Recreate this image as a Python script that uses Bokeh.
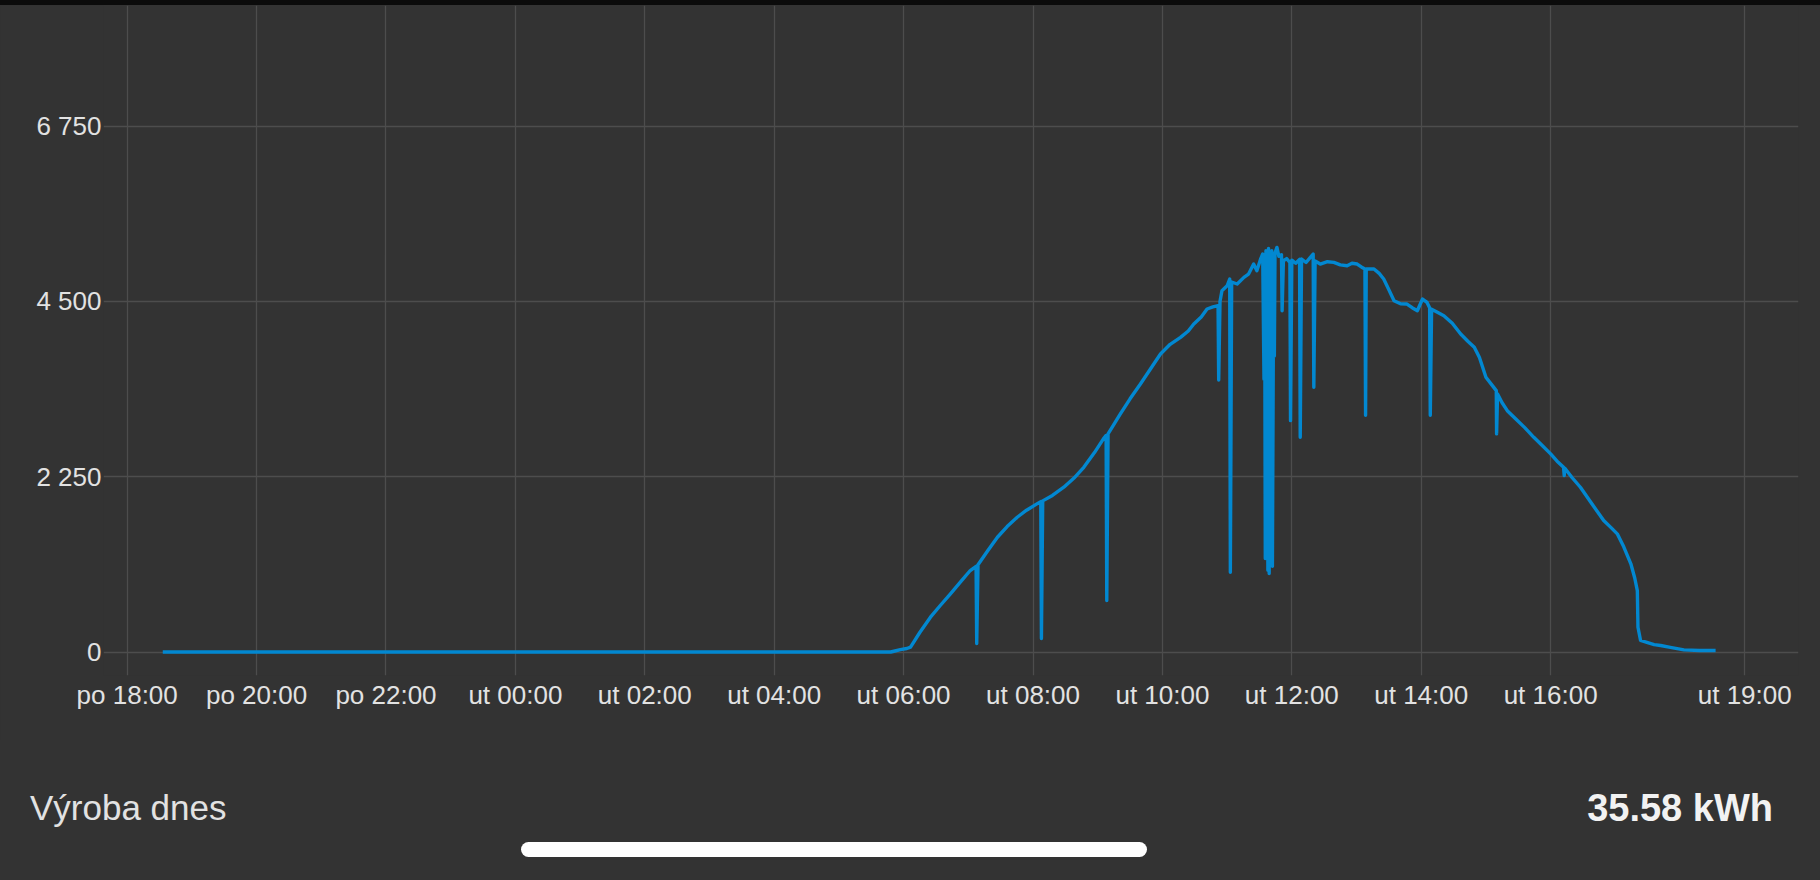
from bokeh.plotting import figure
from bokeh.models import Range1d, FixedTicker, Div
from bokeh.layouts import column
from bokeh.embed import file_html
from bokeh.resources import INLINE

# time in hours counted from Monday 00:00 (po = Monday, ut = Tuesday)
hours = [18.55, 29.80, 29.85, 29.95, 30.05, 30.107, 30.25, 30.415, 30.57, 30.724,
         30.88, 31.03, 31.12, 31.13, 31.15, 31.30, 31.45, 31.60, 31.756, 31.90,
         32.06, 32.12, 32.13, 32.15, 32.30, 32.476, 32.63, 32.785, 32.95, 33.09,
         33.13, 33.14, 33.16, 33.35, 33.50, 33.66, 33.82, 33.97, 34.12, 34.28,
         34.40, 34.485, 34.60, 34.69, 34.78, 34.86, 34.87, 34.89, 34.92, 35.00,
         35.04, 35.05, 35.07, 35.155, 35.26, 35.33, 35.41, 35.46, 35.52, 35.55,
         35.57, 35.58, 35.59, 35.60, 35.61, 35.62, 35.63, 35.64, 35.65, 35.66,
         35.67, 35.69, 35.70, 35.72, 35.73, 35.74, 35.77, 35.80, 35.84, 35.85,
         35.87, 35.92, 35.97, 35.98, 36.00, 36.06, 36.12, 36.13, 36.15, 36.22,
         36.28, 36.33, 36.34, 36.36, 36.44, 36.55, 36.65, 36.75, 36.855, 36.93,
         37.01, 37.08, 37.13, 37.14, 37.15, 37.27, 37.35, 37.42, 37.50, 37.58,
         37.68, 37.78, 37.86, 37.94, 38.02, 38.09, 38.13, 38.14, 38.16, 38.25,
         38.35, 38.48, 38.61, 38.72, 38.82, 38.90, 39.00, 39.10, 39.16, 39.165,
         39.18, 39.25, 39.33, 39.45, 39.60, 39.74, 39.87, 40.00, 40.10, 40.20,
         40.21, 40.22, 40.33, 40.46, 40.64, 40.82, 40.93, 41.03, 41.13, 41.24,
         41.30, 41.34, 41.35, 41.39, 41.50, 41.60, 41.70, 41.85, 42.06, 42.30,
         42.55]
power_w = [0, 0, 10, 30, 45, 62, 250, 447, 600, 747,
           900, 1046, 1100, 110, 1120, 1300, 1473, 1610, 1730, 1820,
           1901, 1930, 173, 1940, 2010, 2115, 2230, 2371, 2560, 2740,
           2780, 661, 2800, 3056, 3250, 3441, 3640, 3826, 3950, 4039,
           4120, 4211, 4300, 4403, 4430, 4446, 3492, 4500, 4638, 4700,
           4788, 1024, 4750, 4724, 4809, 4850, 4980, 4895, 5050, 5109,
           3500, 5100, 1200, 5150, 2300, 5000, 1050, 5180, 1007, 4900,
           2600, 5150, 1100, 5100, 3800, 5120, 5194, 5080, 5100, 4381,
           5023, 5050, 5000, 2970, 5030, 4990, 5040, 2756, 5045, 5000,
           5060, 5109, 3398, 5020, 4980, 5010, 5002, 4970, 4959, 4990,
           4980, 4940, 4916, 3040, 4916, 4916, 4860, 4788, 4650, 4510,
           4470, 4467, 4420, 4381, 4531, 4488, 4420, 3040, 4400, 4360,
           4317, 4220, 4082, 3990, 3911, 3780, 3526, 3420, 3355, 2800,
           3313, 3200, 3098, 3000, 2880, 2756, 2650, 2543, 2450, 2371,
           2264, 2360, 2240, 2115, 1900, 1687, 1600, 1517, 1350, 1132,
           950, 789, 318, 148, 120, 95, 83, 60, 28, 20,
           19]

x_ticks = [18, 20, 22, 24, 26, 28, 30, 32, 34, 36, 38, 40, 43]
x_tick_labels = ["po 18:00", "po 20:00", "po 22:00", "ut 00:00", "ut 02:00",
                 "ut 04:00", "ut 06:00", "ut 08:00", "ut 10:00", "ut 12:00",
                 "ut 14:00", "ut 16:00", "ut 19:00"]
y_ticks = [0, 2250, 4500, 6750]
y_tick_labels = ["0", "2 250", "4 500", "6 750"]

summary_label = "Výroba dnes"
summary_value = "35.58 kWh"

BG = "#333333"
GRID = "#4d4d4d"
TXT = "#e2e2e2"
FONT = "Liberation Sans"

p = figure(width=1820, height=735, output_backend="svg", toolbar_location=None,
           x_range=Range1d(17.634, 43.831), y_range=Range1d(-301.6, 8299),
           min_border_left=103, min_border_right=22, min_border_top=0,
           min_border_bottom=65, margin=0,
           styles={"background-color": BG})
p.background_fill_color = BG
p.background_fill_alpha = 0
p.border_fill_color = BG
p.outline_line_color = None

p.line(hours, power_w, line_color="#0288D1", line_width=3.4, line_join="round")

for ax in (p.xaxis[0], p.yaxis[0]):
    ax.axis_line_color = None
    ax.major_tick_line_color = None
    ax.minor_tick_line_color = None
    ax.major_tick_out = 0
    ax.major_tick_in = 0
    ax.major_label_text_color = TXT
    ax.major_label_text_font = FONT
    ax.major_label_text_font_size = "26px"

p.xaxis[0].ticker = FixedTicker(ticks=x_ticks)
p.xaxis[0].major_label_overrides = dict(zip(x_ticks, x_tick_labels))
p.xaxis[0].major_label_standoff = 4
p.yaxis[0].ticker = FixedTicker(ticks=y_ticks)
p.yaxis[0].major_label_overrides = dict(zip(y_ticks, y_tick_labels))
p.yaxis[0].major_label_standoff = 2

p.xgrid[0].grid_line_color = GRID
p.xgrid[0].grid_line_width = 1.3
p.ygrid[0].grid_line_color = GRID
p.ygrid[0].grid_line_width = 1.3

# status strip at the very top of the screenshot
top_strip = Div(
    text=("<div style=\"position:relative;width:1820px;height:5px;background:#0b0b0b;\">"
          "<div style=\"position:absolute;left:1367px;top:0;width:453px;height:5px;"
          "background:#1e1e1e;\"></div></div>"),
    width=1820, height=5, margin=0, styles={"background-color": "#0b0b0b"})

footer_html = (
    "<div style=\"position:relative;width:1820px;height:140px;background:#333333;"
    "font-family:'Liberation Sans';\">"
    "<span style=\"position:absolute;left:30px;top:48px;font-size:35px;line-height:40px;"
    "color:#e2e2e2;white-space:nowrap;\">" + summary_label + "</span>"
    "<span style=\"position:absolute;right:47px;top:48px;font-size:38px;line-height:40px;"
    "font-weight:bold;color:#f2f2f2;white-space:nowrap;\">" + summary_value + "</span>"
    "<div style=\"position:absolute;left:521px;top:102px;width:626px;height:15px;"
    "border-radius:8px;background:#ffffff;\"></div>"
    "</div>"
)
footer = Div(text=footer_html, width=1820, height=140, margin=0,
             styles={"background-color": BG})

layout = column(top_strip, p, footer, spacing=0)
open("out.html", "w").write(file_html(layout, INLINE))
